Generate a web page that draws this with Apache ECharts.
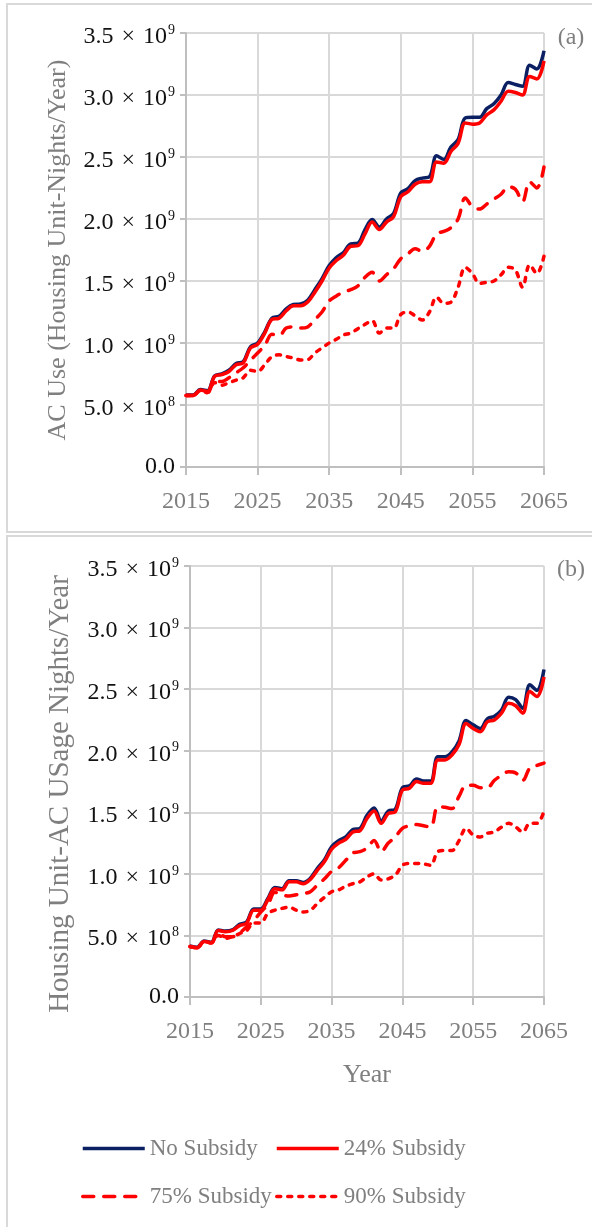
<!DOCTYPE html>
<html>
<head>
<meta charset="utf-8">
<script src="https://cdn.jsdelivr.net/npm/echarts@6/dist/echarts.min.js"></script>
<style>
  html, body { margin: 0; padding: 0; background: #ffffff; }
  #chart { width: 592px; height: 1227px; }
</style>
</head>
<body>
<div id="chart"></div>
<script>
// Annual AC use projections, 2015-2065. Values are in units of 10^9.
const years = [];
for (let y = 2015; y <= 2065; y++) years.push(String(y));

const seriesNames = ['No Subsidy', '24% Subsidy', '75% Subsidy', '90% Subsidy'];

// (a) AC Use (Housing Unit-Nights/Year)
const useNoSubsidy = [
  0.58, 0.58, 0.625, 0.615, 0.735, 0.75, 0.78, 0.835, 0.85, 0.97,
  1.00, 1.09, 1.20, 1.215, 1.275, 1.31, 1.315, 1.345, 1.43, 1.52,
  1.625, 1.69, 1.73, 1.80, 1.805, 1.915, 1.995, 1.935, 2.00, 2.045,
  2.21, 2.245, 2.31, 2.33, 2.34, 2.51, 2.48, 2.58, 2.64, 2.815,
  2.82, 2.82, 2.89, 2.93, 3.00, 3.10, 3.085, 3.07, 3.24, 3.21,
  3.357
];
const use24 = [
  0.577, 0.577, 0.62, 0.61, 0.73, 0.745, 0.77, 0.825, 0.84, 0.96,
  0.99, 1.08, 1.19, 1.20, 1.26, 1.30, 1.30, 1.33, 1.41, 1.50,
  1.605, 1.665, 1.71, 1.78, 1.785, 1.88, 1.975, 1.915, 1.975, 2.02,
  2.18, 2.22, 2.28, 2.30, 2.30, 2.46, 2.45, 2.545, 2.61, 2.775,
  2.765, 2.775, 2.84, 2.88, 2.95, 3.03, 3.02, 3.00, 3.15, 3.13,
  3.275
];
const use75 = [
  0.577, 0.577, 0.615, 0.60, 0.69, 0.69, 0.72, 0.76, 0.80, 0.86,
  0.92, 0.98, 1.07, 1.06, 1.12, 1.13, 1.12, 1.13, 1.19, 1.25,
  1.34, 1.38, 1.41, 1.43, 1.46, 1.53, 1.57, 1.50, 1.55, 1.60,
  1.68, 1.72, 1.76, 1.74, 1.78, 1.88, 1.90, 1.93, 2.00, 2.17,
  2.10, 2.08, 2.12, 2.16, 2.20, 2.26, 2.24, 2.14, 2.30, 2.25,
  2.42
];
const use90 = [
  0.577, 0.577, 0.615, 0.60, 0.68, 0.66, 0.68, 0.70, 0.72, 0.78,
  0.77, 0.825, 0.89, 0.905, 0.89, 0.88, 0.863, 0.866, 0.92, 0.96,
  1.00, 1.03, 1.065, 1.08, 1.115, 1.15, 1.18, 1.08, 1.12, 1.12,
  1.23, 1.25, 1.22, 1.185, 1.25, 1.37, 1.32, 1.33, 1.45, 1.61,
  1.56, 1.48, 1.49, 1.50, 1.55, 1.61, 1.59, 1.45, 1.63, 1.56,
  1.70
];

// (b) Housing Unit-AC Usage Nights/Year
const nightsNoSubsidy = [
  0.415, 0.405, 0.455, 0.445, 0.545, 0.535, 0.545, 0.59, 0.61, 0.715,
  0.715, 0.80, 0.89, 0.88, 0.945, 0.945, 0.93, 0.965, 1.045, 1.115,
  1.22, 1.27, 1.30, 1.36, 1.37, 1.475, 1.535, 1.43, 1.51, 1.525,
  1.70, 1.715, 1.77, 1.755, 1.755, 1.95, 1.95, 1.99, 2.08, 2.245,
  2.21, 2.18, 2.26, 2.28, 2.33, 2.435, 2.415, 2.345, 2.535, 2.49,
  2.66
];
const nights24 = [
  0.41, 0.40, 0.45, 0.44, 0.54, 0.53, 0.54, 0.58, 0.60, 0.705,
  0.705, 0.79, 0.88, 0.87, 0.935, 0.935, 0.92, 0.955, 1.03, 1.10,
  1.20, 1.25, 1.28, 1.34, 1.35, 1.45, 1.51, 1.41, 1.49, 1.505,
  1.68, 1.695, 1.75, 1.735, 1.735, 1.925, 1.925, 1.965, 2.05, 2.22,
  2.18, 2.155, 2.235, 2.25, 2.305, 2.385, 2.365, 2.305, 2.48, 2.44,
  2.60
];
const nights75 = [
  0.41, 0.40, 0.45, 0.44, 0.52, 0.49, 0.49, 0.52, 0.57, 0.62,
  0.69, 0.75, 0.85, 0.83, 0.82, 0.83, 0.84, 0.855, 0.91, 0.96,
  1.02, 1.05, 1.11, 1.17, 1.18, 1.21, 1.27, 1.18, 1.25, 1.30,
  1.37, 1.39, 1.40, 1.39, 1.38, 1.545, 1.54, 1.53, 1.63, 1.72,
  1.72, 1.70, 1.70, 1.76, 1.80, 1.83, 1.82, 1.76, 1.86, 1.88,
  1.90
];
const nights90 = [
  0.41, 0.40, 0.45, 0.44, 0.50, 0.475, 0.49, 0.515, 0.54, 0.60,
  0.60, 0.68, 0.705, 0.72, 0.73, 0.705, 0.69, 0.705, 0.76, 0.81,
  0.855, 0.87, 0.90, 0.92, 0.935, 0.975, 1.00, 0.95, 0.96, 0.99,
  1.07, 1.085, 1.085, 1.08, 1.07, 1.18, 1.19, 1.19, 1.27, 1.37,
  1.315, 1.30, 1.33, 1.34, 1.38, 1.41, 1.38, 1.34, 1.41, 1.41,
  1.51
];

const panelTitles = ['AC Use (Housing Unit-Nights/Year)', 'Housing Unit-AC USage Nights/Year'];
const panelTags = ['(a)', '(b)'];
const xTitle = 'Year';

const FONT = '"Liberation Serif", "DejaVu Serif", serif';
const GRAY = '#7f7f7f';
const GRID_COLOR = '#d9d9d9';
const AXIS_COLOR = '#bfbfbf';
const NAVY = '#0b1f63';
const RED = '#ff0000';

const seriesColors = [NAVY, RED, RED, RED];
const lineStyles = [
  { color: NAVY, width: 3.5, type: 'solid' },
  { color: RED, width: 3.5, type: 'solid' },
  { color: RED, width: 3.5, type: [11, 10], cap: 'round' },
  { color: RED, width: 3.5, type: [4, 7], cap: 'round' }
];

// Tick labels in "m.m × 10^e" form; the zero tick stays "0.0"
function yLabel(v) {
  if (v === 0) return '{z|0.0}';
  const exp = v < 1 ? '8' : '9';
  const mant = v < 1 ? (v * 10).toFixed(1) : v.toFixed(1);
  return '{n|' + mant + '}{x|\u00d7}{n|10}{s|' + exp + '}';
}

function xAxis(gridIndex) {
  return {
    type: 'category', gridIndex: gridIndex, data: years, boundaryGap: false,
    axisLine: { lineStyle: { color: AXIS_COLOR, width: 2 } },
    axisTick: { interval: 9, length: 8, lineStyle: { color: AXIS_COLOR, width: 2 } },
    axisLabel: { interval: 9, margin: 23, color: GRAY, fontFamily: FONT, fontSize: 24 },
    splitLine: { show: true, interval: 9, lineStyle: { color: GRID_COLOR, width: 2 } }
  };
}

function yAxis(gridIndex) {
  const base = { fontFamily: FONT, fontSize: 24, color: '#111111', lineHeight: 26 };
  return {
    type: 'value', gridIndex: gridIndex, min: 0, max: 3.5, interval: 0.5,
    axisLine: { show: true, lineStyle: { color: AXIS_COLOR, width: 2 } },
    axisTick: { show: true, length: 6, lineStyle: { color: AXIS_COLOR, width: 2 } },
    splitLine: { lineStyle: { color: GRID_COLOR, width: 2 } },
    axisLabel: {
      margin: 11,
      formatter: yLabel,
      rich: {
        z: base,
        n: Object.assign({}, base, { padding: [7, 0, 0, 0] }),
        x: Object.assign({}, base, { padding: [7, 8, 0, 8] }),
        s: { fontFamily: FONT, fontSize: 14, color: '#111111', lineHeight: 14, verticalAlign: 'top', padding: [3, 0, 0, 1] }
      }
    }
  };
}

function makeSeries(gridIndex, lists) {
  return lists.map(function (vals, i) {
    return {
      name: seriesNames[i], type: 'line', xAxisIndex: gridIndex, yAxisIndex: gridIndex,
      data: vals, smooth: 0.35, symbol: 'none', showSymbol: false,
      itemStyle: { color: seriesColors[i] }, lineStyle: lineStyles[i], z: 3 + i
    };
  });
}

const legendCommon = {
  padding: 0, itemWidth: 62, itemHeight: 12, selectedMode: false,
  itemStyle: { opacity: 0 },
  lineStyle: { width: 3.5 },
  textStyle: { fontFamily: FONT, fontSize: 23, color: GRAY }
};
const legendSlots = [[81, 1137], [275, 1137], [81, 1185], [275, 1185]];

const chart = echarts.init(document.getElementById('chart'), null, { renderer: 'canvas' });
chart.setOption({
  animation: false,
  backgroundColor: '#ffffff',
  grid: [
    { left: 186, top: 33, width: 358, height: 434 },
    { left: 190, top: 566, width: 354, height: 431 }
  ],
  xAxis: [xAxis(0), xAxis(1)],
  yAxis: [yAxis(0), yAxis(1)],
  legend: seriesNames.map(function (name, i) {
    return Object.assign({}, legendCommon, { data: [name], left: legendSlots[i][0], top: legendSlots[i][1] });
  }),
  series: makeSeries(0, [useNoSubsidy, use24, use75, use90])
    .concat(makeSeries(1, [nightsNoSubsidy, nights24, nights75, nights90])),
  graphic: [
    { type: 'rect', shape: { x: 7, y: 4, width: 640, height: 528 }, style: { fill: 'none', stroke: GRID_COLOR, lineWidth: 2 }, silent: true },
    { type: 'rect', shape: { x: 7, y: 536, width: 640, height: 740 }, style: { fill: 'none', stroke: GRID_COLOR, lineWidth: 2 }, silent: true },
    { type: 'text', x: 571, y: 38, style: { text: panelTags[0], font: '24px ' + FONT, fill: GRAY, align: 'center', verticalAlign: 'middle' } },
    { type: 'text', x: 571, y: 570, style: { text: panelTags[1], font: '24px ' + FONT, fill: GRAY, align: 'center', verticalAlign: 'middle' } },
    { type: 'text', x: 58, y: 250, rotation: Math.PI / 2, style: { text: panelTitles[0], font: '26px ' + FONT, fill: GRAY, align: 'center', verticalAlign: 'middle' } },
    { type: 'text', x: 60, y: 794, rotation: Math.PI / 2, style: { text: panelTitles[1], font: '29px ' + FONT, fill: GRAY, align: 'center', verticalAlign: 'middle' } },
    { type: 'text', x: 367, y: 1075, style: { text: xTitle, font: '26px ' + FONT, fill: GRAY, align: 'center', verticalAlign: 'middle' } }
  ]
});
</script>
</body>
</html>
